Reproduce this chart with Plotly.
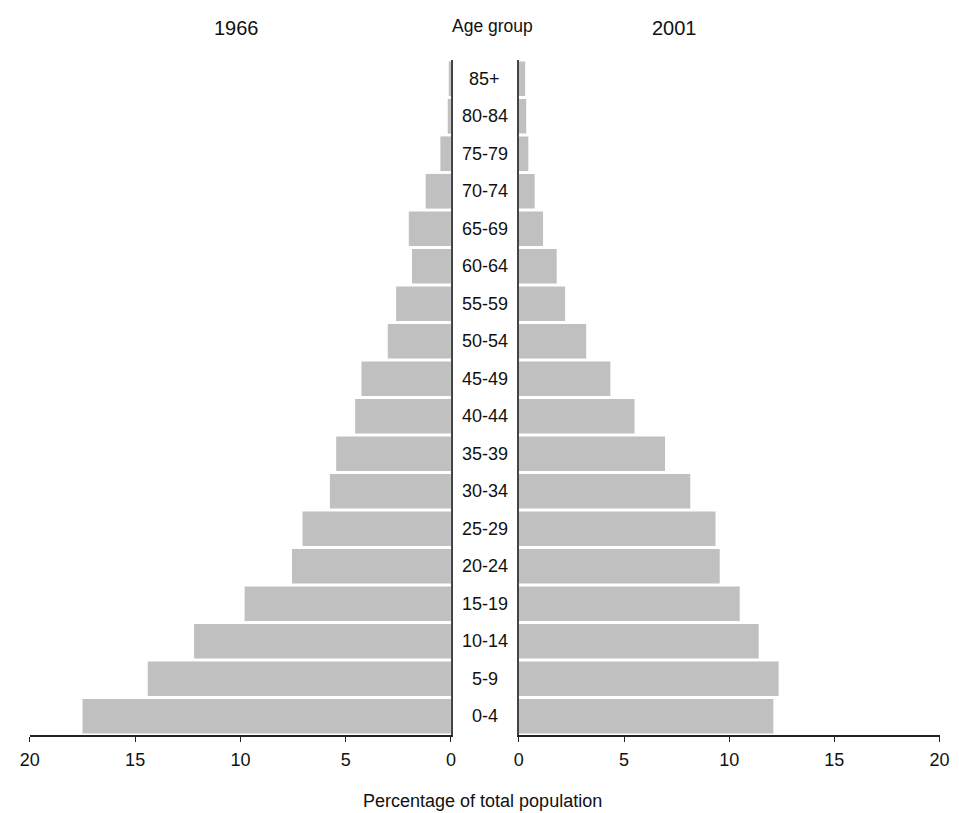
import plotly.graph_objects as go

ages = ["0-4", "5-9", "10-14", "15-19", "20-24", "25-29", "30-34", "35-39", "40-44",
        "45-49", "50-54", "55-59", "60-64", "65-69", "70-74", "75-79", "80-84", "85+"]
pct_1966 = [17.5, 14.4, 12.2, 9.8, 7.55, 7.05, 5.75, 5.45, 4.55,
            4.25, 3.0, 2.6, 1.85, 2.0, 1.2, 0.5, 0.15, 0.1]
pct_2001 = [12.1, 12.35, 11.4, 10.5, 9.55, 9.35, 8.15, 6.95, 5.5,
            4.35, 3.2, 2.2, 1.8, 1.15, 0.75, 0.45, 0.35, 0.3]
tick_vals = [0, 5, 10, 15, 20]
title_left = "1966"
title_right = "2001"
title_mid = "Age group"
x_title = "Percentage of total population"

W, H = 959, 813
FONT = "Arial, Liberation Sans, sans-serif"
BAR = "#c0c0c0"

fig = go.Figure()
fig.add_trace(go.Bar(x=pct_1966, y=ages, orientation="h", marker=dict(color=BAR, line=dict(width=0)),
                     xaxis="x", yaxis="y", showlegend=False, hoverinfo="x+y"))
fig.add_trace(go.Bar(x=pct_2001, y=ages, orientation="h", marker=dict(color=BAR, line=dict(width=0)),
                     xaxis="x2", yaxis="y2", showlegend=False, hoverinfo="x+y"))

axis_common = dict(tickvals=tick_vals, ticks="outside", ticklen=5, tickwidth=1.3, tickcolor="#222",
                   showline=True, linecolor="#222", linewidth=1.5, showgrid=False, zeroline=False,
                   ticklabelstandoff=3,
                   tickfont=dict(family=FONT, size=18, color="#111"), fixedrange=True)
y_common = dict(type="category", categoryorder="array", categoryarray=ages, range=[-0.5, 17.5],
                showticklabels=False, ticks="", showline=True, linecolor="#444", linewidth=1.5,
                showgrid=False, zeroline=False, fixedrange=True)

fig.update_layout(
    width=W, height=H,
    margin=dict(l=0, r=0, t=60, b=78),
    paper_bgcolor="white", plot_bgcolor="white",
    bargap=0.075,
    font=dict(family=FONT, size=18, color="#111"),
    xaxis=dict(domain=[20.3 / W, 450.3 / W], range=[20, 0], anchor="y", **axis_common),
    xaxis2=dict(domain=[519.7 / W, 949.3 / W], range=[0, 20], anchor="y2", **axis_common),
    yaxis=dict(anchor="x", side="right", **y_common),
    yaxis2=dict(anchor="x2", side="left", **y_common),
)

annotations = []
for a in ages:
    annotations.append(dict(x=485 / W, xref="paper", y=a, yref="y", text=a, showarrow=False,
                            xanchor="center", yanchor="middle", font=dict(family=FONT, size=18, color="#111")))

def py(px):
    return (735 - px) / 675

annotations += [
    dict(x=231 / W, y=py(27.5), xref="paper", yref="paper", text=title_left, showarrow=False,
         xanchor="center", yanchor="middle", font=dict(family=FONT, size=20, color="#111")),
    dict(x=679 / W, y=py(27.5), xref="paper", yref="paper", text=title_right, showarrow=False,
         xanchor="center", yanchor="middle", font=dict(family=FONT, size=20, color="#111")),
    dict(x=493 / W, y=py(25.5), xref="paper", yref="paper", text=title_mid, showarrow=False,
         xanchor="center", yanchor="middle", font=dict(family=FONT, size=17.5, color="#111")),
    dict(x=483 / W, y=py(801), xref="paper", yref="paper", text=x_title, showarrow=False,
         xanchor="center", yanchor="middle", font=dict(family=FONT, size=18, color="#111")),
]
fig.update_layout(annotations=annotations)

fig.write_html("out.html",
               config={"displayModeBar": False},
               post_script="document.body.style.margin='0';document.body.style.overflow='hidden';")
